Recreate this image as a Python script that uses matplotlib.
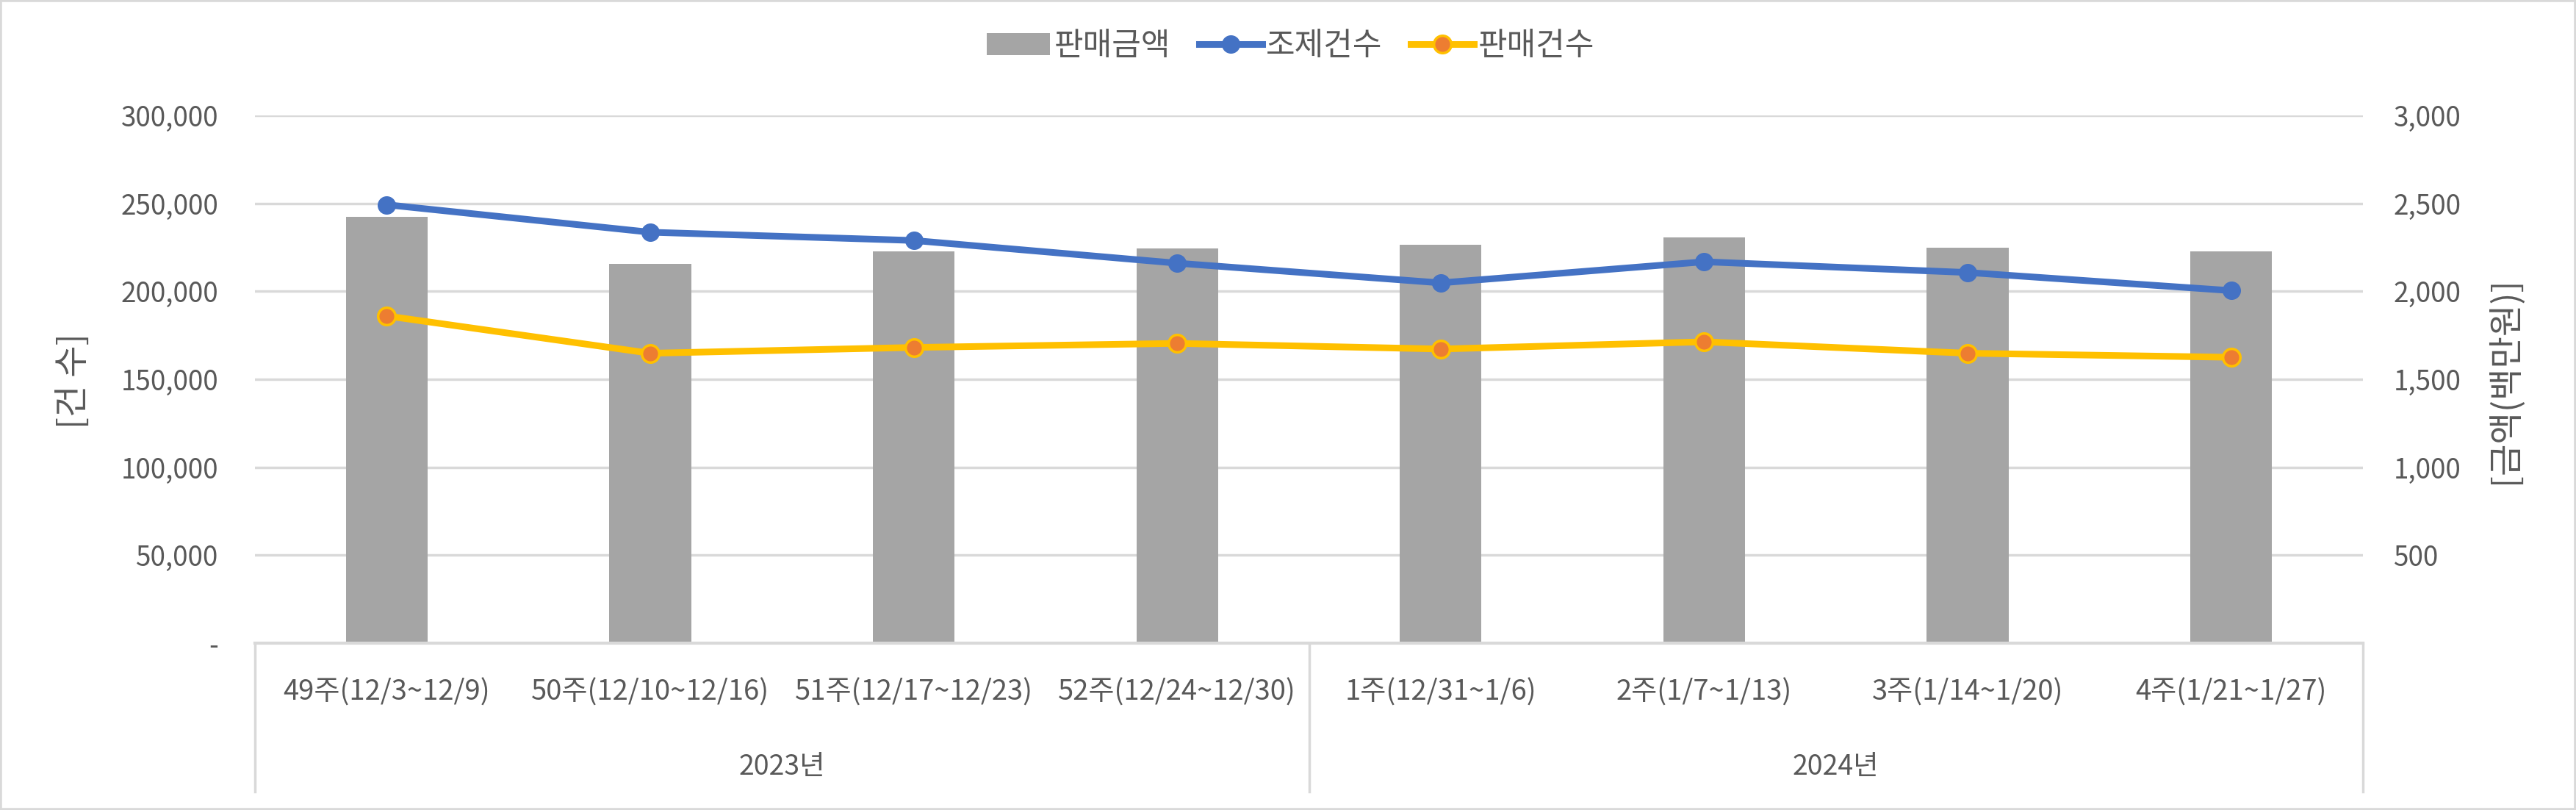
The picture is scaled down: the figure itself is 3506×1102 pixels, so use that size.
import matplotlib.pyplot as plt
from matplotlib.lines import Line2D
from matplotlib.patches import Patch, Rectangle
import matplotlib.transforms as mtransforms

plt.rcParams['font.family'] = ['Noto Sans CJK KR', 'DejaVu Sans']

weeks = ['49주(12/3~12/9)', '50주(12/10~12/16)', '51주(12/17~12/23)', '52주(12/24~12/30)',
         '1주(12/31~1/6)', '2주(1/7~1/13)', '3주(1/14~1/20)', '4주(1/21~1/27)']
years = ['2023년', '2024년']
sales_amount = [2425, 2155, 2228, 2243, 2263, 2306, 2249, 2228]      # 판매금액 (백만원)
dispense_count = [249200, 233600, 228900, 216000, 204800, 216800, 210700, 200400]  # 조제건수
sales_count = [186000, 164800, 168100, 170400, 167200, 171300, 164800, 162500]     # 판매건수

left_ticks = [0, 50000, 100000, 150000, 200000, 250000, 300000]
left_labels = ['-', '50,000', '100,000', '150,000', '200,000', '250,000', '300,000']
right_ticks = [0, 500, 1000, 1500, 2000, 2500, 3000]
right_labels = ['', '500', '1,000', '1,500', '2,000', '2,500', '3,000']

GRAY_TXT = '#595959'
GRID = '#D9D9D9'

fig = plt.figure(figsize=(35.06, 11.02), dpi=100)
fig.patches.append(Rectangle((0, 0), 1, 1, transform=fig.transFigure, fill=False,
                             edgecolor=GRID, linewidth=4))

ax2 = fig.add_axes([347 / 3506, 227 / 1102, (3216 - 347) / 3506, (875 - 157) / 1102])
ax = ax2.twinx()
ax.yaxis.tick_left()
ax2.yaxis.tick_right()
ax.set_zorder(ax2.get_zorder() + 1)
ax.patch.set_visible(False)

x = list(range(len(weeks)))

# bars on the right (amount) axis
ax2.bar(x, sales_amount, width=0.31, color='#A5A5A5', zorder=2)
ax2.set_ylim(0, 3000)
ax2.set_yticks(right_ticks)
ax2.set_yticklabels(right_labels)
ax2.grid(axis='y', color=GRID, linewidth=2.5, zorder=0)
ax2.set_axisbelow(True)

# lines on the left (count) axis
ax.plot(x, dispense_count, color='#4472C4', linewidth=6.5, marker='o', markersize=17,
        markerfacecolor='#4472C4', markeredgecolor='#4472C4', solid_capstyle='round')
ax.plot(x, sales_count, color='#FFC000', linewidth=6.5, marker='o', markersize=17,
        markerfacecolor='#ED7D31', markeredgecolor='#FFC000', markeredgewidth=2.5,
        solid_capstyle='round')
ax.set_ylim(0, 300000)
ax.set_yticks(left_ticks)
ax.set_yticklabels(left_labels)

ax2.set_xlim(-0.5, len(weeks) - 0.5)
ax2.set_xticks(x)
ax2.set_xticklabels(weeks)

for a in (ax, ax2):
    for s in a.spines.values():
        s.set_visible(False)
    a.tick_params(length=0, colors=GRAY_TXT, labelsize=26.5)
ax.tick_params(axis='y', pad=36)
ax2.tick_params(axis='y', pad=30)
ax2.tick_params(axis='x', pad=34, labelsize=27.5)

ax2.spines['bottom'].set_visible(True)
ax2.spines['bottom'].set_color(GRID)
ax2.spines['bottom'].set_linewidth(3)

# multi-level category box
trans = mtransforms.blended_transform_factory(ax2.transData, ax2.transAxes)
box_bottom = -(1077 - 875) / (875 - 157)
for xv in (-0.5, 3.5, 7.5):
    ax2.add_line(Line2D([xv, xv], [0, box_bottom], transform=trans, color=GRID,
                        linewidth=2.5, clip_on=False))
for i, yr in enumerate(years):
    ax2.text(1.5 + 4 * i, -(1043 - 875) / (875 - 157), yr, transform=trans,
             ha='center', va='center', fontsize=27, color=GRAY_TXT)

fig.text(101 / 3506, 1 - 518 / 1102, '[건 수]', rotation=90, ha='center', va='center',
         fontsize=34, color=GRAY_TXT)
fig.text(3410 / 3506, 1 - 517 / 1102, '[금액(백만원)]', rotation=90, ha='center',
         va='center', fontsize=34, color=GRAY_TXT)

handles = [
    Patch(facecolor='#A5A5A5', edgecolor='none'),
    Line2D([], [], color='#4472C4', linewidth=6.5, marker='o', markersize=17),
    Line2D([], [], color='#FFC000', linewidth=6.5, marker='o', markersize=17,
           markerfacecolor='#ED7D31', markeredgecolor='#FFC000', markeredgewidth=2.5),
]
fig.legend(handles, ['판매금액', '조제건수', '판매건수'], loc='center',
           bbox_to_anchor=(0.501, 1 - 63 / 1102), ncol=3, frameon=False, fontsize=31,
           labelcolor=GRAY_TXT, handlelength=2.0, handletextpad=0.12, columnspacing=0.9)

fig.savefig('out.png', dpi=100)
